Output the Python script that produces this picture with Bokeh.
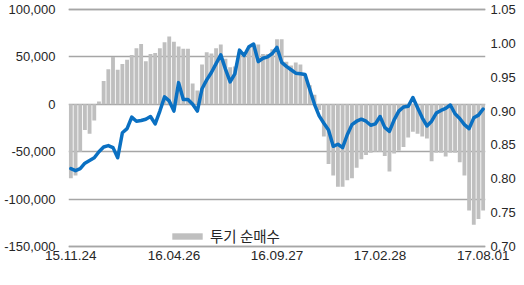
from bokeh.plotting import figure
from bokeh.models import (Range1d, LinearAxis, FixedTicker, NumeralTickFormatter,
                          Legend, LegendItem, ColumnDataSource)
from bokeh.embed import file_html
from bokeh.resources import INLINE

# ---- data ----
tick_labels = ["15.11.24", "16.04.26", "16.09.27", "17.02.28", "17.08.01"]
tick_every = 22  # weeks between date labels

net_buy = [
    -78000, -75000, -50000, -27000, -31000, -17000, 3000, 24500, 37000, 50000,
    36500, 42500, 47000, 52000, 59000, 63500, 45500, 53000, 54000, 59000,
    65500, 71500, 66000, 61000, 58500, 58500, 22000, 14500, 42000, 55000,
    53500, 59000, 63000, 48000, 39000, 40000, 55000, 52000, 60000, 64000,
    63000, 53000, 53000, 58000, 68500, 68500, 45000, 41000, 44000, 42000,
    32000, 20000, 10000, -6000, -34000, -63000, -75000, -87000, -87000, -80000,
    -78000, -67000, -58000, -53500, -51000, -50000, -50000, -54500, -71000, -52000,
    -49000, -45000, -35000, -29000, -31000, -34000, -36000, -60000, -51000, -51000,
    -55000, -51000, -51000, -61000, -75000, -112000, -127000, -121000, -112000,
]

ratio = [
    0.815, 0.812, 0.815, 0.823, 0.827, 0.831, 0.840, 0.847, 0.849, 0.846,
    0.831, 0.868, 0.874, 0.891, 0.885, 0.886, 0.888, 0.892, 0.881, 0.900,
    0.921, 0.915, 0.900, 0.942, 0.917, 0.917, 0.910, 0.900, 0.933, 0.946,
    0.957, 0.970, 0.983, 0.962, 0.943, 0.955, 0.990, 0.982, 0.995, 0.999,
    0.973, 0.978, 0.980, 0.985, 0.994, 0.972, 0.966, 0.961, 0.956, 0.955,
    0.954, 0.932, 0.910, 0.893, 0.882, 0.872, 0.848, 0.851, 0.846, 0.865,
    0.880, 0.885, 0.888, 0.885, 0.879, 0.881, 0.892, 0.876, 0.870, 0.887,
    0.900, 0.906, 0.907, 0.920, 0.905, 0.890, 0.878, 0.885, 0.897, 0.901,
    0.904, 0.909, 0.896, 0.889, 0.880, 0.874, 0.890, 0.894, 0.903,
]

left_ticks = [-150000, -100000, -50000, 0, 50000, 100000]
right_ticks = [0.70, 0.75, 0.80, 0.85, 0.90, 0.95, 1.00, 1.05]

weeks = list(range(len(net_buy)))
src = ColumnDataSource(dict(x=weeks, bar=net_buy, ratio=ratio))

FONT = "Liberation Sans"
TXT = "#262626"
GRID = "#A6A6A6"

FH = 243          # frame height in px
PADPX = 3         # px of room above/below the outer gridlines
pad_l = (left_ticks[-1] - left_ticks[0]) * PADPX / (FH - 2 * PADPX)
pad_r = (right_ticks[-1] - right_ticks[0]) * PADPX / (FH - 2 * PADPX)

p = figure(frame_width=417, frame_height=FH, output_backend="svg",
           toolbar_location=None,
           x_range=Range1d(-0.5, len(weeks) - 0.5),
           y_range=Range1d(left_ticks[0] - pad_l, left_ticks[-1] + pad_l),
           min_border_left=68, min_border_right=31,
           min_border_top=6, min_border_bottom=18)
p.extra_y_ranges = {"ratio": Range1d(right_ticks[0] - pad_r, right_ticks[-1] + pad_r)}
p.outline_line_color = None
p.background_fill_color = "white"
p.border_fill_color = "white"

# outermost horizontal grid lines (top and bottom of the value axis)
p.hspan(y=[left_ticks[0], left_ticks[-1]], line_color=GRID, line_width=1.5)

bars = p.vbar(x="x", top="bar", bottom=0, width=0.82, source=src,
              fill_color="#BFBFBF", line_color=None)
p.line(x="x", y="ratio", source=src, y_range_name="ratio",
       line_color="#0A70C2", line_width=3.5, line_join="round", line_cap="round")

# axes
xa = p.xaxis[0]
pos = [i * tick_every for i in range(len(tick_labels))]
xa.ticker = FixedTicker(ticks=pos)
xa.major_label_overrides = {pp: lab for pp, lab in zip(pos, tick_labels)}
ya = p.yaxis[0]
ya.ticker = FixedTicker(ticks=left_ticks)
ya.formatter = NumeralTickFormatter(format="0,0")

ra = LinearAxis(y_range_name="ratio", ticker=FixedTicker(ticks=right_ticks),
                formatter=NumeralTickFormatter(format="0.00"))
p.add_layout(ra, "right")

for ax in (xa, ya, ra):
    ax.axis_line_color = None
    ax.major_tick_line_color = None
    ax.minor_tick_line_color = None
    ax.major_tick_in = 0
    ax.major_tick_out = 0
    ax.major_label_text_font = FONT
    ax.major_label_text_font_size = "13px"
    ax.major_label_text_color = TXT
xa.major_label_text_font_size = "13.5px"
xa.major_label_standoff = 1
ya.major_label_standoff = 13
ra.major_label_standoff = 5

p.xgrid.grid_line_color = None
p.ygrid.ticker = FixedTicker(ticks=left_ticks)
p.ygrid.grid_line_color = GRID
p.ygrid.grid_line_width = 1.5

legend = Legend(items=[LegendItem(label="투기 순매수", renderers=[bars])],
                location=(100, 3), orientation="horizontal",
                padding=0, margin=0, spacing=0,
                glyph_width=38, glyph_height=8, label_standoff=4,
                label_text_font="Noto Sans CJK KR", label_text_font_size="14.5px",
                label_text_color=TXT,
                border_line_color=None, background_fill_alpha=0)
p.add_layout(legend)

open("out.html", "w").write(file_html(p, INLINE))
